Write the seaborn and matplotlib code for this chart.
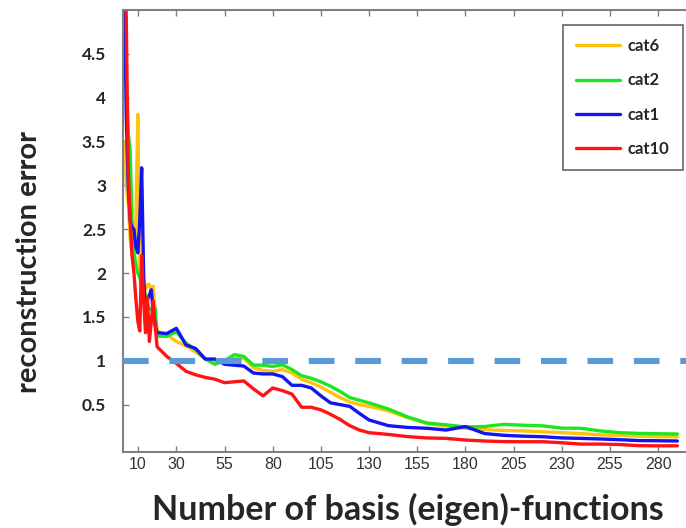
import seaborn as sns
import matplotlib.pyplot as plt
import pandas as pd

# 横轴：基函数个数
n_basis = [3, 4, 5, 6, 7, 8, 9, 10, 11, 12, 13, 14, 15, 16, 17, 18, 19, 20,
           25, 30, 35, 40, 45, 50, 55, 60, 65, 70, 75, 80, 85, 90, 95, 100,
           105, 110, 115, 120, 125, 130,
           140, 150, 160, 170, 180, 190, 200, 210, 220, 230, 240, 250, 260,
           270, 280, 290]

# 各类别的重建误差
cat6 = [3.5, 3.0, 2.8, 2.4, 2.2, 2.2, 2.6, 3.81, 2.1, 1.9, 1.85, 1.8, 1.87, 1.87, 1.8, 1.85, 1.55, 1.34,
        1.3, 1.22, 1.17, 1.1, 1.02, 0.99, 1.01, 1.03, 1.03, 0.92, 0.89, 0.88, 0.9, 0.86, 0.79, 0.75,
        0.7, 0.64, 0.58, 0.53, 0.5, 0.48,
        0.43, 0.35, 0.285, 0.255, 0.23, 0.215, 0.205, 0.2, 0.19, 0.18, 0.17, 0.155, 0.15,
        0.14, 0.135, 0.134]
cat2 = [5.0, 4.2, 3.6, 3.41, 2.6, 2.23, 2.1, 2.0, 1.95, 1.85, 1.8, 1.75, 1.65, 1.58, 1.6, 1.56, 1.6, 1.28,
        1.28, 1.33, 1.2, 1.13, 1.02, 0.96, 1.0, 1.07, 1.05, 0.95, 0.95, 0.935, 0.955, 0.9, 0.83, 0.8,
        0.76, 0.71, 0.65, 0.58, 0.55, 0.52,
        0.45, 0.36, 0.29, 0.27, 0.245, 0.25, 0.275, 0.265, 0.258, 0.232, 0.23, 0.2, 0.18,
        0.172, 0.168, 0.165]
cat1 = [5.2, 3.8, 3.0, 2.6, 2.52, 2.5, 2.3, 2.23, 2.6, 3.2, 2.0, 1.47, 1.7, 1.75, 1.81, 1.55, 1.4, 1.32,
        1.31, 1.37, 1.18, 1.14, 1.02, 1.02, 0.96, 0.95, 0.94, 0.86, 0.85, 0.85, 0.82, 0.72, 0.72, 0.69,
        0.6, 0.52, 0.5, 0.48, 0.4, 0.325,
        0.26, 0.24, 0.23, 0.21, 0.25, 0.17, 0.15, 0.14, 0.134, 0.12, 0.115, 0.108, 0.1,
        0.09, 0.088, 0.085]
cat10 = [6.5, 4.9, 3.2, 2.6, 2.2, 2.0, 1.7, 1.45, 1.34, 2.2, 1.7, 1.32, 1.72, 1.22, 1.45, 1.68, 1.4, 1.16,
         1.05, 0.97, 0.88, 0.84, 0.81, 0.79, 0.75, 0.76, 0.77, 0.68, 0.6, 0.69, 0.66, 0.62, 0.47, 0.47,
         0.44, 0.39, 0.33, 0.26, 0.21, 0.18,
         0.16, 0.135, 0.12, 0.115, 0.096, 0.085, 0.078, 0.077, 0.077, 0.065, 0.05, 0.05, 0.045,
         0.032, 0.03, 0.03]

categories = ["cat6", "cat2", "cat1", "cat10"]
colors = ["#FFC20E", "#1EE61E", "#1414F0", "#FF1414"]
x_ticks = [10, 30, 55, 80, 105, 130, 155, 180, 205, 230, 255, 280]
y_ticks = [0.5, 1, 1.5, 2, 2.5, 3, 3.5, 4, 4.5]

# 转换成长表
frames = []
for name, vals in zip(categories, [cat6, cat2, cat1, cat10]):
    frames.append(pd.DataFrame({"n": n_basis, "err": vals, "cat": name}))
df = pd.concat(frames, ignore_index=True)

sns.set_style("ticks")
plt.rcParams["font.family"] = ["Lato", "DejaVu Sans"]

fig = plt.figure(figsize=(6.86, 5.28), dpi=100)
ax = fig.add_axes([0.179, 0.144, 0.83, 0.837])

sns.lineplot(data=df, x="n", y="err", hue="cat", hue_order=categories,
             palette=colors, estimator=None, sort=False, lw=2.4, ax=ax)

# 阈值虚线
ax.axhline(1, color="#5B9BD5", lw=4.4, dashes=(4.2, 3.4), zorder=5)

ax.set_xlim(2.2, 297.7)
ax.set_ylim(-0.04, 5.0)
ax.set_xticks(x_ticks)
ax.set_yticks(y_ticks)
ax.set_yticklabels([f"{v:g}" for v in y_ticks], fontweight="bold", fontsize=12.5)
ax.set_xticklabels([str(v) for v in x_ticks], fontsize=11.5, color="#333333",
                   family=["Liberation Sans"])
ax.tick_params(axis="y", pad=12)
ax.tick_params(direction="in", top=True, right=True, length=4, width=1, color="#808080")
for s in ax.spines.values():
    s.set_color("#808080")
    s.set_linewidth(1.5)

ax.set_xlabel("Number of basis (eigen)-functions", fontsize=24.5, fontweight="bold", labelpad=15)
ax.set_ylabel("reconstruction error", fontsize=21, fontweight="bold")
ax.yaxis.set_label_coords(-0.142, 0.43)

leg = ax.legend(loc="upper right", bbox_to_anchor=(0.9956, 0.953), bbox_transform=fig.transFigure,
                borderaxespad=0, fancybox=False, edgecolor="#666666", framealpha=1,
                handlelength=2.6, handletextpad=0.5, labelspacing=1.1, borderpad=0.8,
                prop={"weight": "bold", "size": 12})
leg.get_frame().set_linewidth(1.2)

fig.savefig("out.png", dpi=100)
